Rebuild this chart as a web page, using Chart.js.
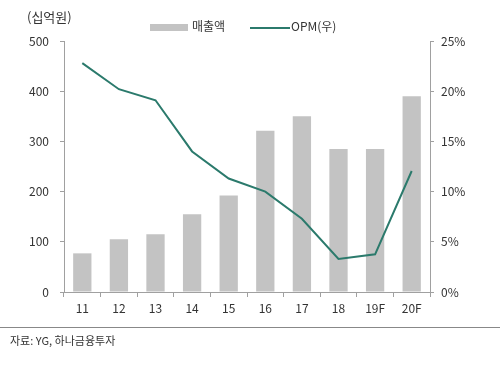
<!DOCTYPE html>
<html>
<head>
<meta charset="utf-8">
<script src="https://cdn.jsdelivr.net/npm/chart.js@4"></script>
<style>
  body { margin: 0; background: #fff; font-family: "Noto Sans CJK KR", sans-serif; }
  #wrap { position: relative; width: 500px; height: 365px; }
  #c { position: absolute; left: 0; top: 0; }
  .txt { position: absolute; color: #333; font-size: 12px; white-space: nowrap; line-height: 1; }
  .sw { position: absolute; }
</style>
</head>
<body>
<div id="wrap">
  <canvas id="c" width="500" height="365"></canvas>
  <div class="txt" style="left:27px;top:10px;font-size:13px;">(십억원)</div>
  <div class="sw" style="left:150px;top:24px;width:38px;height:7px;background:#c3c3c3;"></div>
  <div class="txt" style="left:192px;top:20px;">매출액</div>
  <div class="sw" style="left:250px;top:27px;width:40px;height:2px;background:#2b7a6c;"></div>
  <div class="txt" style="left:291px;top:20px;">OPM(우)</div>
  <div class="sw" style="left:0;top:327px;width:500px;height:1px;background:#888;"></div>
  <div class="txt" style="left:10px;top:335px;font-size:11px;">자료: YG, 하나금융투자</div>
</div>
<script>
var years = ['11', '12', '13', '14', '15', '16', '17', '18', '19F', '20F'];
var sales = [77, 105, 115, 155, 192, 321, 350, 285, 285, 390];
var opm = [22.8, 20.2, 19.1, 14.0, 11.3, 10.0, 7.3, 3.3, 3.75, 12.05];
var leftTicks = [0, 100, 200, 300, 400, 500];
var rightTicks = [0, 5, 10, 15, 20, 25];

var axisColor = '#a0a0a0';
var font = { family: '"Noto Sans CJK KR", sans-serif', size: 12 };

var ctx = document.getElementById('c').getContext('2d');
var chart = new Chart(ctx, {
    type: 'bar',
    data: {
        labels: years,
        datasets: [{
            type: 'line',
            label: 'OPM(우)',
            data: opm,
            yAxisID: 'y2',
            borderColor: '#2b7a6c',
            borderWidth: 2,
            pointRadius: 0,
            tension: 0,
            order: 0
        }, {
            type: 'bar',
            label: '매출액',
            data: sales,
            yAxisID: 'y',
            backgroundColor: '#c3c3c3',
            barPercentage: 0.5,
            categoryPercentage: 1,
            order: 1
        }]
    },
    options: {
        responsive: false,
        animation: false,
        layout: { padding: { top: 41, left: 0, right: 0, bottom: 0 } },
        plugins: { legend: { display: false }, tooltip: { enabled: false } },
        scales: {
            x: {
                offset: true,
                grid: { offset: true, drawOnChartArea: false, drawTicks: true, tickLength: 5, color: axisColor },
                border: { color: axisColor, width: 1 },
                ticks: { color: '#333', font: font, padding: 4 },
                afterFit: function(s) { s.height = 73; }
            },
            y: {
                position: 'left',
                min: 0, max: 500,
                afterBuildTicks: function(s) { s.ticks = leftTicks.map(function(v) { return { value: v }; }); },
                grid: { drawOnChartArea: false, tickLength: 4, color: axisColor },
                border: { color: axisColor, width: 1 },
                ticks: { color: '#333', font: font, padding: 11 },
                afterFit: function(s) { s.width = 64; }
            },
            y2: {
                position: 'right',
                min: 0, max: 25,
                afterBuildTicks: function(s) { s.ticks = rightTicks.map(function(v) { return { value: v }; }); },
                grid: { drawOnChartArea: false, tickLength: 4, color: axisColor },
                border: { color: axisColor, width: 1 },
                ticks: { color: '#333', font: font, padding: 7, callback: function(v) { return v + '%'; } },
                afterFit: function(s) { s.width = 70; }
            }
        }
    }
});
</script>
</body>
</html>
